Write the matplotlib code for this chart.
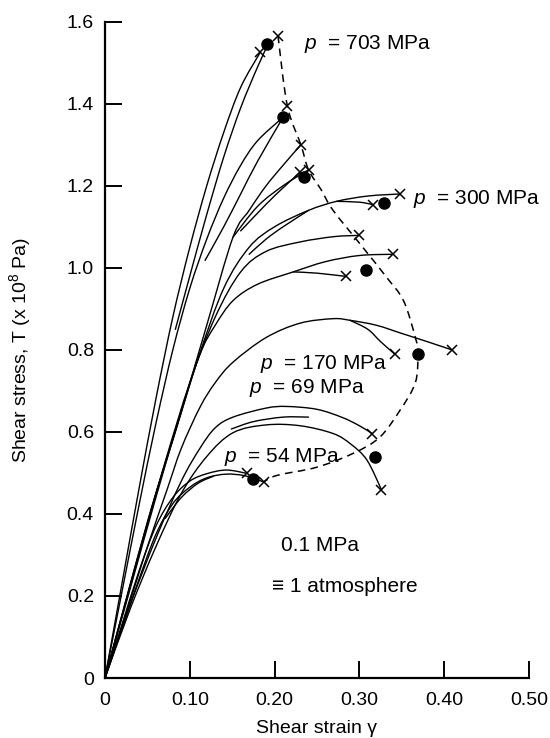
import matplotlib
matplotlib.use("Agg")
import matplotlib.pyplot as plt
from matplotlib.path import Path
from matplotlib.patches import PathPatch

plt.rcParams['font.family'] = ['Liberation Sans', 'DejaVu Sans']
plt.rcParams['mathtext.fontset'] = 'custom'
plt.rcParams['mathtext.it'] = 'Liberation Sans:italic'
plt.rcParams['mathtext.rm'] = 'Liberation Sans'

# ---------------- data ----------------
# each curve: strain (gamma) values and shear stress values (x 1e8 Pa)
c703a_x = [0, 0.02, 0.04, 0.06, 0.08, 0.10, 0.12, 0.14, 0.16, 0.183]
c703a_y = [0, 0.23, 0.46, 0.68, 0.88, 1.05, 1.20, 1.33, 1.44, 1.525]
c703b_x = [0.083, 0.10, 0.12, 0.14, 0.16, 0.18, 0.193]
c703b_y = [0.85, 0.98, 1.13, 1.27, 1.39, 1.49, 1.548]

c1370a_x = [0, 0.02, 0.04, 0.06, 0.08, 0.10, 0.12, 0.14, 0.16, 0.18, 0.21]
c1370a_y = [0, 0.21, 0.42, 0.62, 0.80, 0.95, 1.07, 1.17, 1.25, 1.31, 1.367]
c1370b_x = [0.118, 0.14, 0.16, 0.18, 0.21]
c1370b_y = [1.018, 1.10, 1.18, 1.26, 1.367]

c1300_x = [0, 0.03, 0.06, 0.09, 0.12, 0.151, 0.17, 0.19, 0.21, 0.231]
c1300_y = [0, 0.23, 0.45, 0.65, 0.86, 1.075, 1.14, 1.20, 1.25, 1.30]
c1239_x = [0.151, 0.18, 0.21, 0.24]
c1239_y = [1.075, 1.15, 1.20, 1.239]
c1233_x = [0.16, 0.19, 0.21, 0.23]
c1233_y = [1.09, 1.155, 1.195, 1.233]

c300_x = [0, 0.05, 0.08, 0.11, 0.14, 0.17, 0.20, 0.24, 0.273, 0.31, 0.348]
c300_y = [0, 0.38, 0.58, 0.78, 0.95, 1.05, 1.10, 1.14, 1.162, 1.175, 1.18]
c300b_x = [0.273, 0.30, 0.316]
c300b_y = [1.162, 1.16, 1.154]
c300c_x = [0.170, 0.19, 0.21, 0.24]
c300c_y = [1.033, 1.07, 1.10, 1.14]

c1079_x = [0, 0.04, 0.07, 0.10, 0.13, 0.16, 0.19, 0.23, 0.27, 0.299]
c1079_y = [0, 0.30, 0.52, 0.72, 0.88, 0.99, 1.04, 1.063, 1.076, 1.079]

c1033_x = [0, 0.03, 0.06, 0.09, 0.112, 0.13, 0.151, 0.18, 0.222, 0.26, 0.30, 0.34]
c1033_y = [0, 0.22, 0.44, 0.65, 0.79, 0.86, 0.92, 0.96, 0.99, 1.015, 1.03, 1.033]
c979_x = [0.222, 0.25, 0.284]
c979_y = [0.99, 0.987, 0.979]

c170_x = [0, 0.03, 0.05, 0.073, 0.09, 0.112, 0.13, 0.151, 0.19, 0.23, 0.269, 0.289,
          0.32, 0.35, 0.38, 0.409]
c170_y = [0, 0.19, 0.32, 0.458, 0.56, 0.66, 0.72, 0.77, 0.83, 0.865, 0.876, 0.872,
          0.86, 0.84, 0.82, 0.80]
c170b_x = [0.289, 0.31, 0.325, 0.342]
c170b_y = [0.872, 0.85, 0.82, 0.789]

c69a_x = [0, 0.03, 0.06, 0.09, 0.112, 0.13, 0.151, 0.19, 0.214, 0.25, 0.28, 0.30, 0.315]
c69a_y = [0, 0.18, 0.34, 0.48, 0.56, 0.61, 0.636, 0.658, 0.662, 0.655, 0.635, 0.615, 0.596]
c69b_x = [0, 0.03, 0.06, 0.09, 0.12, 0.151, 0.19, 0.23, 0.269, 0.29, 0.309, 0.326]
c69b_y = [0, 0.17, 0.32, 0.45, 0.54, 0.598, 0.617, 0.615, 0.596, 0.57, 0.531, 0.459]
c69c_x = [0.149, 0.175, 0.21, 0.24]
c69c_y = [0.607, 0.625, 0.636, 0.636]

c54a_x = [0, 0.02, 0.04, 0.06, 0.08, 0.10, 0.12, 0.143, 0.167]
c54a_y = [0, 0.13, 0.26, 0.37, 0.44, 0.48, 0.498, 0.507, 0.499]
c54b_x = [0, 0.02, 0.04, 0.06, 0.08, 0.10, 0.12, 0.143, 0.165, 0.187]
c54b_y = [0, 0.12, 0.24, 0.35, 0.425, 0.465, 0.488, 0.497, 0.493, 0.478]
c54c_x = [0.071, 0.09, 0.11, 0.128]
c54c_y = [0.389, 0.44, 0.475, 0.492]

curves = [
    (c703a_x, c703a_y), (c703b_x, c703b_y),
    (c1370a_x, c1370a_y), (c1370b_x, c1370b_y),
    (c1300_x, c1300_y), (c1239_x, c1239_y), (c1233_x, c1233_y),
    (c300_x, c300_y), (c300b_x, c300b_y), (c300c_x, c300c_y),
    (c1079_x, c1079_y), (c1033_x, c1033_y), (c979_x, c979_y),
    (c170_x, c170_y), (c170b_x, c170b_y),
    (c69a_x, c69a_y), (c69b_x, c69b_y), (c69c_x, c69c_y),
    (c54a_x, c54a_y), (c54b_x, c54b_y), (c54c_x, c54c_y),
]

# dashed envelope of fracture points
env_x = [0.204, 0.215, 0.231, 0.240, 0.255, 0.269, 0.304, 0.332, 0.352, 0.366, 0.369,
         0.366, 0.348, 0.324, 0.293, 0.25, 0.203, 0.187]
env_y = [1.566, 1.395, 1.30, 1.239, 1.19, 1.14, 1.05, 0.977, 0.92, 0.83, 0.79,
         0.72, 0.653, 0.587, 0.548, 0.514, 0.494, 0.478]

# fracture points (crosses) and averages (dots)
cross_x = [0.204, 0.183, 0.215, 0.231, 0.240, 0.230, 0.348, 0.316, 0.299, 0.340, 0.284,
           0.342, 0.409, 0.315, 0.326, 0.167, 0.187]
cross_y = [1.566, 1.525, 1.395, 1.30, 1.239, 1.233, 1.18, 1.154, 1.079, 1.033, 0.979,
           0.789, 0.799, 0.596, 0.459, 0.499, 0.478]
dot_x = [0.191, 0.210, 0.235, 0.329, 0.308, 0.369, 0.318, 0.175]
dot_y = [1.546, 1.367, 1.221, 1.158, 0.994, 0.789, 0.539, 0.486]

x_ticks = [0, 0.10, 0.20, 0.30, 0.40, 0.50]
x_ticklabels = ["0", "0.10", "0.20", "0.30", "0.40", "0.50"]
y_ticks = [0, 0.2, 0.4, 0.6, 0.8, 1.0, 1.2, 1.4, 1.6]
y_ticklabels = ["0", "0.2", "0.4", "0.6", "0.8", "1.0", "1.2", "1.4", "1.6"]

labels_text = ["$p$  = 703 MPa", "$p$  = 300 MPa", "$p$  = 170 MPa", "$p$  = 69 MPa",
               "$p$  = 54 MPa"]
labels_x = [0.235, 0.363, 0.183, 0.170, 0.140]
labels_y = [1.546, 1.168, 0.766, 0.706, 0.539]


def smooth_patch(xs, ys, **kw):
    """Smooth curve through the given points (Catmull-Rom drawn as Bezier)."""
    pts = list(zip(xs, ys))
    n = len(pts)
    verts = [pts[0]]
    codes = [Path.MOVETO]
    for i in range(n - 1):
        p0 = pts[i - 1] if i > 0 else pts[i]
        p1 = pts[i]
        p2 = pts[i + 1]
        p3 = pts[i + 2] if i + 2 < n else pts[i + 1]
        c1 = (p1[0] + (p2[0] - p0[0]) / 6.0, p1[1] + (p2[1] - p0[1]) / 6.0)
        c2 = (p2[0] - (p3[0] - p1[0]) / 6.0, p2[1] - (p3[1] - p1[1]) / 6.0)
        verts += [c1, c2, p2]
        codes += [Path.CURVE4, Path.CURVE4, Path.CURVE4]
    return PathPatch(Path(verts, codes), fill=False, **kw)


# ---------------- drawing ----------------
fig = plt.figure(figsize=(5.5, 7.38), dpi=100)
ax = fig.add_axes([0.1909, 0.0813, 0.7709, 0.8893])

for cx, cy in curves:
    ax.add_patch(smooth_patch(cx, cy, edgecolor='black', lw=1.0, capstyle='round'))

ax.add_patch(smooth_patch(env_x, env_y, edgecolor='black', lw=1.1,
                          linestyle=(0, (5, 3.5))))
ax.plot(cross_x, cross_y, linestyle='none', marker='x', color='black',
        markersize=7, markeredgewidth=1.1)
ax.plot(dot_x, dot_y, linestyle='none', marker='o', color='black', markersize=8)

for t, lx, ly in zip(labels_text, labels_x, labels_y):
    ax.text(lx, ly, t, fontsize=15, ha='left', va='center')

ax.text(0.254, 0.324, "0.1 MPa", fontsize=15, ha='center', va='center')
ax.text(0.283, 0.222, "\u2261 1 atmosphere", fontsize=15, ha='center', va='center')

ax.set_xlim(0, 0.5)
ax.set_ylim(0, 1.6)
ax.set_xticks(x_ticks)
ax.set_xticklabels(x_ticklabels)
ax.set_yticks(y_ticks)
ax.set_yticklabels(y_ticklabels)
ax.tick_params(direction='in', length=12, width=1.4, labelsize=14)
ax.tick_params(axis='x', pad=10)
ax.tick_params(axis='y', pad=8)
for s in ['top', 'right']:
    ax.spines[s].set_visible(False)
for s in ['left', 'bottom']:
    ax.spines[s].set_linewidth(1.6)

ax.set_xlabel("Shear strain \u03b3", fontsize=14, labelpad=8)
ax.set_ylabel("Shear stress, T (x 10$^{8}$ Pa)", fontsize=14, labelpad=24)

fig.savefig("out.png", dpi=100)
